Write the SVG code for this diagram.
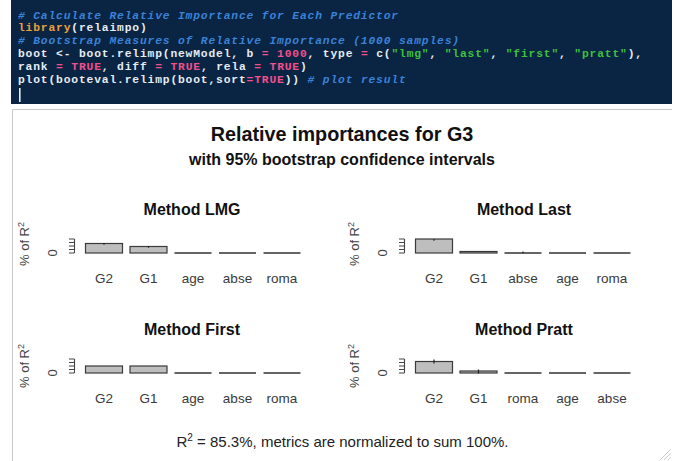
<svg xmlns="http://www.w3.org/2000/svg" width="677" height="461" viewBox="0 0 677 461">
  <style>
    .code { font-family: "Liberation Mono", "DejaVu Sans Mono", monospace; font-size: 11.3px; letter-spacing: 0.84px; font-weight: bold; fill: #e6ecf2; }
    .cm { fill: #3b82d6; font-style: italic; }
    .fn { fill: #e9a23b; }
    .kw { fill: #f0508c; }
    .st { fill: #3cc23c; }
    .title { font-family: "Liberation Sans", Arial, sans-serif; font-weight: bold; fill: #111; text-anchor: middle; }
    .ptitle { font-family: "Liberation Sans", Arial, sans-serif; font-weight: bold; font-size: 16px; fill: #111; text-anchor: middle; }
    .lab { font-family: "Liberation Sans", Arial, sans-serif; font-size: 13.5px; fill: #3a3a3a; text-anchor: middle; }
    .ylab { font-family: "Liberation Sans", Arial, sans-serif; font-size: 13px; fill: #444; text-anchor: middle; }
    .foot { font-family: "Liberation Sans", Arial, sans-serif; font-size: 15px; fill: #222; text-anchor: middle; }
    .bar { fill: #bebebe; stroke: #3a3a3a; stroke-width: 1.2; }
    .flat { stroke: #333; stroke-width: 1.5; fill: none; }
    .axis { stroke: #444; stroke-width: 1.1; fill: none; }
    .ci { stroke: #222; stroke-width: 1.2; }
    .frame { stroke: #c9c9c9; stroke-width: 1; fill: none; }
  </style>
  <defs>
    <!-- compressed y axis with five ticks, drawn up from the zero line -->
    <g id="yaxis">
      <path class="axis" d="M74.5,-14 V0 M69,0 H74.5 M69,-3.5 H74.5 M69,-7 H74.5 M69,-10.5 H74.5 M69,-14 H74.5"/>
    </g>
  </defs>

  <rect width="677" height="461" fill="#ffffff"/>

  <!-- R console code -->
  <g id="code">
    <rect x="11" y="0" width="661" height="104" fill="#0a2444"/>
    <text class="code" x="18" y="18.5" xml:space="preserve"><tspan class="cm"># Calculate Relative Importance for Each Predictor</tspan></text>
    <text class="code" x="18" y="31.3" xml:space="preserve"><tspan class="fn">library</tspan>(relaimpo)</text>
    <text class="code" x="18" y="44.1" xml:space="preserve"><tspan class="cm"># Bootstrap Measures of Relative Importance (1000 samples)</tspan></text>
    <text class="code" x="18" y="56.9" xml:space="preserve">boot &lt;- boot.relimp(newModel, b <tspan class="kw">=</tspan> <tspan class="kw">1000</tspan>, type <tspan class="kw">=</tspan> c(<tspan class="st">"lmg"</tspan>, <tspan class="st">"last"</tspan>, <tspan class="st">"first"</tspan>, <tspan class="st">"pratt"</tspan>),</text>
    <text class="code" x="18" y="69.7" xml:space="preserve">rank <tspan class="kw">=</tspan> <tspan class="kw">TRUE</tspan>, diff <tspan class="kw">=</tspan> <tspan class="kw">TRUE</tspan>, rela <tspan class="kw">=</tspan> <tspan class="kw">TRUE</tspan>)</text>
    <text class="code" x="18" y="82.5" xml:space="preserve">plot(booteval.relimp(boot,sort<tspan class="kw">=</tspan><tspan class="kw">TRUE</tspan>)) <tspan class="cm"># plot result</tspan></text>
    <rect x="19" y="88" width="1.6" height="14" fill="#e6ecf2"/>
  </g>

  <!-- plot window frame -->
  <path class="frame" d="M12.5,461 V109.5 H672"/>

  <!-- overall titles -->
  <g id="titles">
    <text class="title" x="342" y="141" font-size="19.8">Relative importances for G3</text>
    <text class="title" x="342" y="165" font-size="16">with 95% bootstrap confidence intervals</text>
  </g>

  <!-- LMG panel -->
  <g id="panel-lmg">
    <text class="ptitle" x="192" y="215">Method LMG</text>
    <text class="ylab" transform="translate(29,244) rotate(-90)">% of R<tspan dy="-5" font-size="9">2</tspan></text>
    <text class="ylab" transform="translate(56.5,253) rotate(-90)">0</text>
    <use href="#yaxis" transform="translate(0,253)"/>
    <rect class="bar" x="85.5" y="243.5" width="37" height="9.5"/>
    <rect class="bar" x="130" y="246.5" width="37" height="6.5"/>
    <path class="flat" d="M174.5,253 H211.5 M219,253 H256 M263.5,253 H300.5"/>
    <path class="ci" d="M104,243 v1.8 M148.5,246 v1.8"/>
    <text class="lab" x="104" y="283">G2</text>
    <text class="lab" x="148.5" y="283">G1</text>
    <text class="lab" x="193" y="283">age</text>
    <text class="lab" x="237.5" y="283">abse</text>
    <text class="lab" x="282" y="283">roma</text>
  </g>

  <!-- Last panel -->
  <g id="panel-last">
    <text class="ptitle" x="524" y="215">Method Last</text>
    <text class="ylab" transform="translate(359,244) rotate(-90)">% of R<tspan dy="-5" font-size="9">2</tspan></text>
    <text class="ylab" transform="translate(386.5,253) rotate(-90)">0</text>
    <use href="#yaxis" transform="translate(330,253)"/>
    <rect class="bar" x="415.5" y="239" width="37" height="14"/>
    <rect class="bar" x="460" y="251.5" width="37" height="1.5"/>
    <path class="flat" d="M504.5,253 H541.5 M549,253 H586 M593.5,253 H630.5"/>
    <path class="ci" d="M434,239 v1.8 M523,251.5 v1.8"/>
    <text class="lab" x="434" y="283">G2</text>
    <text class="lab" x="478.5" y="283">G1</text>
    <text class="lab" x="523" y="283">abse</text>
    <text class="lab" x="567.5" y="283">age</text>
    <text class="lab" x="612" y="283">roma</text>
  </g>

  <!-- First panel -->
  <g id="panel-first">
    <text class="ptitle" x="192" y="335">Method First</text>
    <text class="ylab" transform="translate(29,366) rotate(-90)">% of R<tspan dy="-5" font-size="9">2</tspan></text>
    <text class="ylab" transform="translate(56.5,373) rotate(-90)">0</text>
    <use href="#yaxis" transform="translate(0,373)"/>
    <rect class="bar" x="85.5" y="366" width="37" height="7"/>
    <rect class="bar" x="130" y="366" width="37" height="7"/>
    <path class="flat" d="M174.5,373 H211.5 M219,373 H256 M263.5,373 H300.5"/>
    <text class="lab" x="104" y="403">G2</text>
    <text class="lab" x="148.5" y="403">G1</text>
    <text class="lab" x="193" y="403">age</text>
    <text class="lab" x="237.5" y="403">abse</text>
    <text class="lab" x="282" y="403">roma</text>
  </g>

  <!-- Pratt panel -->
  <g id="panel-pratt">
    <text class="ptitle" x="524" y="335">Method Pratt</text>
    <text class="ylab" transform="translate(359,366) rotate(-90)">% of R<tspan dy="-5" font-size="9">2</tspan></text>
    <text class="ylab" transform="translate(386.5,373) rotate(-90)">0</text>
    <use href="#yaxis" transform="translate(330,373)"/>
    <rect class="bar" x="415.5" y="361.5" width="37" height="11.5"/>
    <rect class="bar" x="460" y="371" width="37" height="2"/>
    <path class="flat" d="M504.5,373 H541.5 M549,373 H586 M593.5,373 H630.5"/>
    <path class="ci" d="M434,359.5 v4 M478.5,369.5 v4"/>
    <text class="lab" x="434" y="403">G2</text>
    <text class="lab" x="478.5" y="403">G1</text>
    <text class="lab" x="523" y="403">roma</text>
    <text class="lab" x="567.5" y="403">age</text>
    <text class="lab" x="612" y="403">abse</text>
  </g>

  <!-- footer note -->
  <text class="foot" x="342.5" y="447">R<tspan dy="-6" font-size="10">2</tspan><tspan dy="6"> = 85.3%, metrics are normalized to sum 100%.</tspan></text>

  <!-- window resize grip -->
  <path d="M671,449 L660,460 M671,453 L664,460 M671,457 L668,460" stroke="#cfcfcf" stroke-width="1" fill="none"/>
</svg>
